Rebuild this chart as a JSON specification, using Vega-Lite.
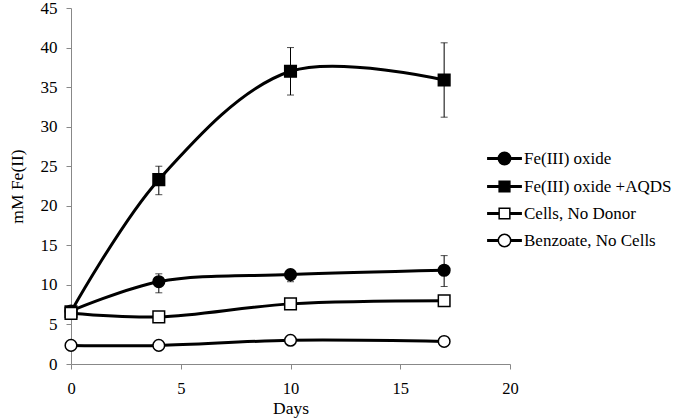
{
  "$schema": "https://vega.github.io/schema/vega-lite/v6.json",
  "width": 439,
  "height": 356,
  "autosize": {"type": "none"},
  "padding": {"left": 71, "top": 8, "right": 170, "bottom": 54},
  "background": "white",
  "config": {
    "view": {"stroke": null},
    "font": "Liberation Serif",
    "axis": {
      "grid": false,
      "domainColor": "#888888",
      "tickColor": "#888888",
      "labelColor": "black",
      "titleColor": "black",
      "labelFont": "Liberation Serif",
      "titleFont": "Liberation Serif",
      "labelFontSize": 17,
      "titleFontSize": 17.5,
      "titleFontWeight": "normal",
      "tickSize": 5,
      "labelOverlap": false
    }
  },
  "datasets": {
    "main": [
      {"series": "Fe(III) oxide", "day": 0, "value": 6.7},
      {"series": "Fe(III) oxide", "day": 4, "value": 10.4},
      {"series": "Fe(III) oxide", "day": 10, "value": 11.3},
      {"series": "Fe(III) oxide", "day": 17, "value": 11.85},
      {"series": "Fe(III) oxide +AQDS", "day": 0, "value": 6.6},
      {"series": "Fe(III) oxide +AQDS", "day": 4, "value": 23.3},
      {"series": "Fe(III) oxide +AQDS", "day": 10, "value": 37.0},
      {"series": "Fe(III) oxide +AQDS", "day": 17, "value": 35.9},
      {"series": "Cells, No Donor", "day": 0, "value": 6.4},
      {"series": "Cells, No Donor", "day": 4, "value": 5.95},
      {"series": "Cells, No Donor", "day": 10, "value": 7.6},
      {"series": "Cells, No Donor", "day": 17, "value": 8.0},
      {"series": "Benzoate, No Cells", "day": 0, "value": 2.35},
      {"series": "Benzoate, No Cells", "day": 4, "value": 2.35},
      {"series": "Benzoate, No Cells", "day": 10, "value": 3.0},
      {"series": "Benzoate, No Cells", "day": 17, "value": 2.85}
    ],
    "err": [
      {"series": "Fe(III) oxide", "day": 4, "lo": 9.0, "hi": 11.4},
      {"series": "Fe(III) oxide", "day": 10, "lo": 10.4, "hi": 11.9},
      {"series": "Fe(III) oxide", "day": 17, "lo": 9.8, "hi": 13.7},
      {"series": "Fe(III) oxide +AQDS", "day": 4, "lo": 21.4, "hi": 25.0},
      {"series": "Fe(III) oxide +AQDS", "day": 10, "lo": 34.0, "hi": 40.0},
      {"series": "Fe(III) oxide +AQDS", "day": 17, "lo": 31.2, "hi": 40.6}
    ]
  },
  "layer": [
    {
      "data": {"name": "err"},
      "mark": {"type": "rule", "color": "black", "strokeWidth": 1},
      "encoding": {
        "x": {
          "field": "day", "type": "quantitative",
          "scale": {"domain": [0, 20], "nice": false},
          "axis": {"title": "Days", "values": [0, 5, 10, 15, 20], "labelFlush": false, "labelFontSize": 16.5, "labelPadding": 11, "titlePadding": 3, "labelOverlap": false}
        },
        "y": {
          "field": "lo", "type": "quantitative",
          "scale": {"domain": [0, 45], "nice": false},
          "axis": {"title": "mM Fe(II)", "values": [0, 5, 10, 15, 20, 25, 30, 35, 40, 45], "tickCount": 10, "labelPadding": 9, "titlePadding": 14, "labelFlush": false, "labelOverlap": false}
        },
        "y2": {"field": "hi"}
      }
    },
    {
      "data": {"name": "err"},
      "mark": {"type": "tick", "orient": "horizontal", "color": "black", "size": 7, "thickness": 1},
      "encoding": {
        "x": {"field": "day", "type": "quantitative"},
        "y": {"field": "lo", "type": "quantitative"}
      }
    },
    {
      "data": {"name": "err"},
      "mark": {"type": "tick", "orient": "horizontal", "color": "black", "size": 7, "thickness": 1},
      "encoding": {
        "x": {"field": "day", "type": "quantitative"},
        "y": {"field": "hi", "type": "quantitative"}
      }
    },
    {
      "data": {"name": "main"},
      "mark": {"type": "line", "interpolate": "catmull-rom", "color": "black", "strokeWidth": 3},
      "encoding": {
        "x": {"field": "day", "type": "quantitative"},
        "y": {"field": "value", "type": "quantitative"},
        "detail": {"field": "series"},
        "order": {"field": "day"}
      }
    },
    {
      "data": {"name": "main"},
      "mark": {"type": "point", "filled": true, "stroke": "black", "strokeWidth": 1.5, "opacity": 1, "size": 135},
      "encoding": {
        "x": {"field": "day", "type": "quantitative"},
        "y": {"field": "value", "type": "quantitative"},
        "shape": {
          "field": "series", "type": "nominal",
          "scale": {"domain": ["Fe(III) oxide", "Fe(III) oxide +AQDS", "Cells, No Donor", "Benzoate, No Cells"], "range": ["circle", "square", "square", "circle"]},
          "legend": null
        },
        "fill": {
          "field": "series", "type": "nominal",
          "scale": {"domain": ["Fe(III) oxide", "Fe(III) oxide +AQDS", "Cells, No Donor", "Benzoate, No Cells"], "range": ["black", "black", "white", "white"]},
          "legend": null
        }
      }
    },
    {
      "data": {"name": "main"},
      "mark": {"type": "point", "filled": true, "strokeWidth": 1.5, "opacity": 0, "size": 196},
      "encoding": {
        "x": {"field": "day", "type": "quantitative"},
        "y": {"field": "value", "type": "quantitative"},
        "stroke": {
          "field": "series", "type": "nominal",
          "scale": {"domain": ["Fe(III) oxide", "Fe(III) oxide +AQDS", "Cells, No Donor", "Benzoate, No Cells"], "range": ["black", "black", "black", "black"]},
          "legend": {
            "orient": "none", "legendX": 416, "legendY": 142, "title": null, "padding": 0,
            "symbolSize": 196, "symbolOffset": 9, "labelOffset": 11,
            "labelFont": "Liberation Serif", "labelFontSize": 17, "labelColor": "black", "labelLimit": 300,
            "rowPadding": 9, "symbolStrokeWidth": 1.5, "symbolOpacity": 1
          }
        },
        "fill": {
          "field": "series", "type": "nominal",
          "scale": {"domain": ["Fe(III) oxide", "Fe(III) oxide +AQDS", "Cells, No Donor", "Benzoate, No Cells"], "range": ["black", "black", "white", "white"]},
          "legend": {
            "orient": "none", "legendX": 416, "legendY": 142, "title": null, "padding": 0,
            "symbolSize": 196, "symbolOffset": 9, "labelOffset": 11,
            "labelFont": "Liberation Serif", "labelFontSize": 17, "labelColor": "black", "labelLimit": 300,
            "rowPadding": 9, "symbolStrokeWidth": 1.5, "symbolOpacity": 1
          }
        },
        "shape": {
          "field": "series", "type": "nominal",
          "scale": {
            "domain": ["Fe(III) oxide", "Fe(III) oxide +AQDS", "Cells, No Donor", "Benzoate, No Cells"],
            "range": [
              "M-2.38,-0.107H-0.886V0.107H-2.38Z M0.886,-0.107H2.38V0.107H0.886Z M-0.886,0A0.886,0.886 0 1,0 0.886,0A0.886,0.886 0 1,0 -0.886,0Z",
              "M-2.38,-0.107H-0.764V0.107H-2.38Z M0.764,-0.107H2.38V0.107H0.764Z M-0.764,-0.764H0.764V0.764H-0.764Z",
              "M-2.38,-0.107H-0.764V0.107H-2.38Z M0.764,-0.107H2.38V0.107H0.764Z M-0.764,-0.764H0.764V0.764H-0.764Z",
              "M-2.38,-0.107H-0.886V0.107H-2.38Z M0.886,-0.107H2.38V0.107H0.886Z M-0.886,0A0.886,0.886 0 1,0 0.886,0A0.886,0.886 0 1,0 -0.886,0Z"
            ]
          },
          "legend": {
            "orient": "none", "legendX": 416, "legendY": 142, "title": null, "padding": 0,
            "symbolSize": 196, "symbolOffset": 9, "labelOffset": 11,
            "labelFont": "Liberation Serif", "labelFontSize": 17, "labelColor": "black", "labelLimit": 300,
            "rowPadding": 9, "symbolStrokeWidth": 1.5, "symbolOpacity": 1
          }
        }
      }
    }
  ],
  "resolve": {"scale": {"shape": "independent", "fill": "independent", "stroke": "independent"}}
}
